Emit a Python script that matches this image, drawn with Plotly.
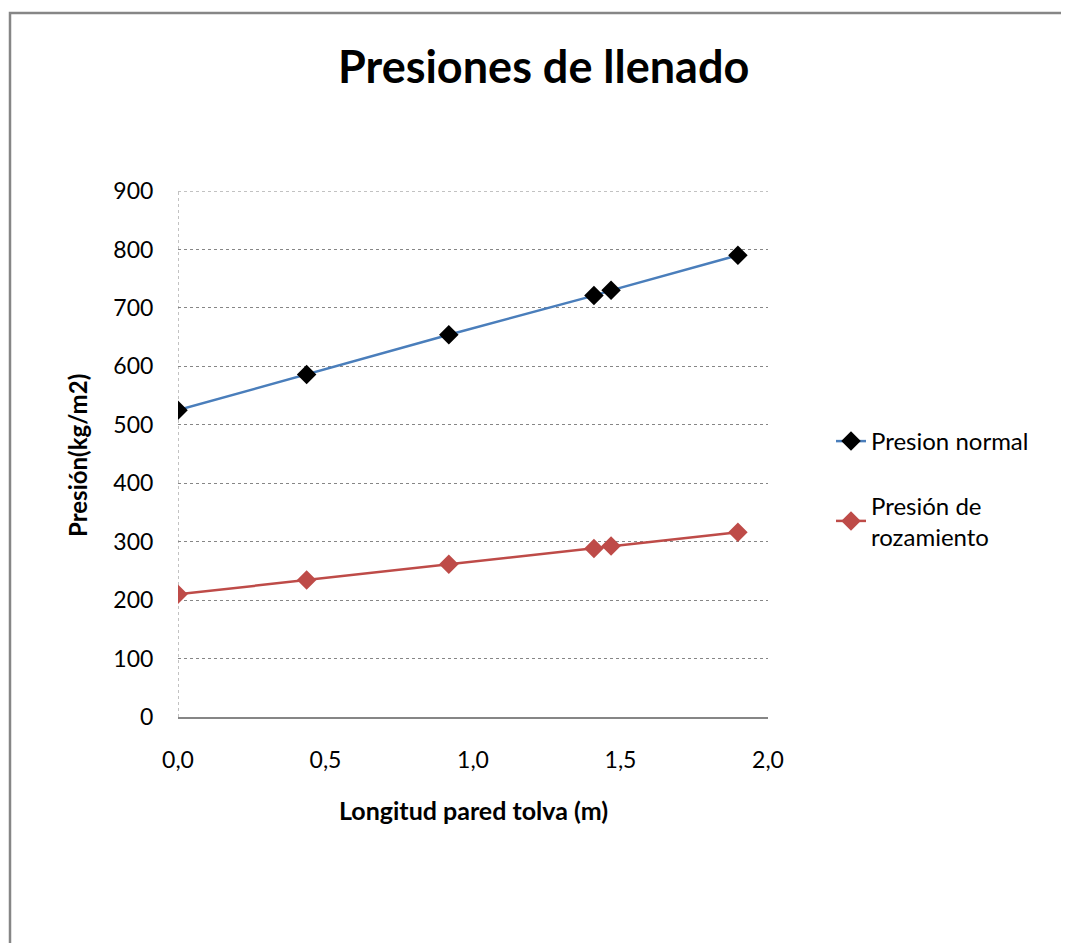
import plotly.graph_objects as go

# Data
longitud = [0.0, 0.436, 0.918, 1.41, 1.468, 1.898]
presion_normal = [525, 586, 654, 721, 730, 790]
presion_rozamiento = [210, 234.5, 261.5, 288.5, 292.5, 316]
x_ticks = [0.0, 0.5, 1.0, 1.5, 2.0]
y_ticks = [0, 100, 200, 300, 400, 500, 600, 700, 800, 900]

OFF = 8  # page body margin
W, H = 1069 - OFF, 943 - OFF
# plot area in screen pixels
SL, SR, ST, SB = 178, 768, 191, 717
L, R, T, B = SL - OFF, SR - OFF, ST - OFF, SB - OFF
pw, ph = R - L, B - T

def px2paper_x(p):
    return (p - OFF - L) / pw

def px2paper_y(p):
    return (B - (p - OFF)) / ph

FONT = "Lato"

fig = go.Figure()
fig.add_trace(go.Scatter(
    x=longitud, y=presion_normal, mode="lines+markers", name="Presion normal",
    legendgroup="a",
    line=dict(color="#4A7EBB", width=2.5),
    marker=dict(symbol="diamond", size=15, color="#000000"),
))
fig.add_trace(go.Scatter(
    x=longitud, y=presion_rozamiento, mode="lines+markers", name="Presión de<br>rozamiento",
    legendgroup="b",
    line=dict(color="#BE4B48", width=2.5),
    marker=dict(symbol="diamond", size=15, color="#BE4B48"),
))

fig.update_layout(
    width=W, height=H, autosize=False,
    margin=dict(l=L, r=W - R, t=T, b=H - B, pad=0),
    paper_bgcolor="white", plot_bgcolor="white",
    separators=",.",
    font=dict(family=FONT, size=23, color="#000000"),
    showlegend=True,
    legend=dict(
        x=px2paper_x(831), y=px2paper_y(419), xanchor="left", yanchor="top",
        font=dict(family=FONT, size=24, color="#000000"),
        tracegroupgap=30, itemwidth=30, bgcolor="rgba(0,0,0,0)",
    ),
    xaxis=dict(
        range=[0, 2], tickvals=x_ticks, tickformat=".1f",
        showgrid=False, zeroline=False,
        showline=True, linecolor="#868686", linewidth=1.5,
        ticks="outside", ticklen=22, tickcolor="rgba(0,0,0,0)",
        tickfont=dict(family=FONT, size=23),
    ),
    yaxis=dict(
        range=[0, 900], tickvals=y_ticks,
        showgrid=True, gridcolor="#868686", griddash="dot", gridwidth=1,
        zeroline=False, showline=False,
        ticks="outside", ticklen=19, tickcolor="rgba(0,0,0,0)",
        tickfont=dict(family=FONT, size=23),
    ),
    shapes=[
        dict(type="line", xref="x", yref="paper", x0=0, x1=0, y0=0, y1=1,
             line=dict(color="#868686", width=1, dash="dot"), layer="below"),
        dict(type="line", xref="paper", yref="y", x0=0, x1=1, y0=900, y1=900,
             line=dict(color="#868686", width=1, dash="dot"), layer="below"),
        dict(type="rect", xref="paper", yref="paper",
             x0=px2paper_x(10), x1=px2paper_x(1090),
             y0=px2paper_y(970), y1=px2paper_y(13),
             line=dict(color="#868686", width=2.5), fillcolor="rgba(0,0,0,0)", layer="below"),
    ],
    annotations=[
        dict(text="<b>Presiones de llenado</b>", xref="paper", yref="paper",
             x=px2paper_x(543), y=px2paper_y(66), xanchor="center", yanchor="middle",
             showarrow=False, font=dict(family=FONT, size=45, color="#000000")),
        dict(text="<b>Presión(kg/m2)</b>", xref="paper", yref="paper",
             x=px2paper_x(78), y=px2paper_y(456), xanchor="center", yanchor="middle",
             textangle=-90, showarrow=False, font=dict(family=FONT, size=24, color="#000000")),
        dict(text="<b>Longitud pared tolva (m)</b>", xref="paper", yref="paper",
             x=px2paper_x(473), y=px2paper_y(810), xanchor="center", yanchor="middle",
             showarrow=False, font=dict(family=FONT, size=25, color="#000000")),
    ],
)

fig.write_html("out.html")
